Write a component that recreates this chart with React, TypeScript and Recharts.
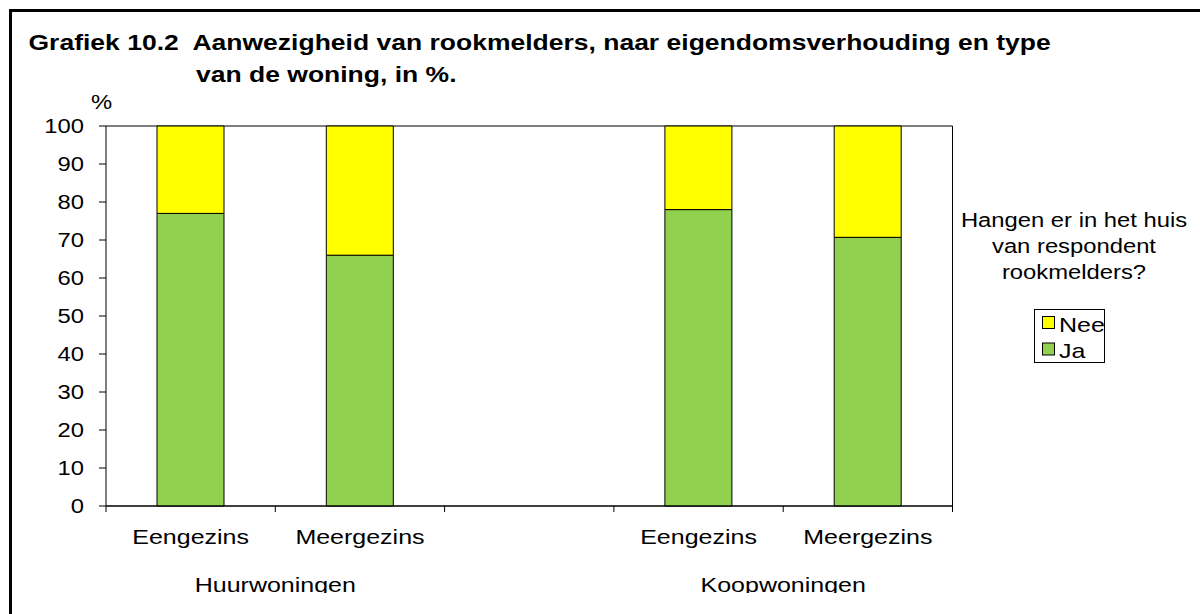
import React from 'react';
import { BarChart, Bar, XAxis, YAxis, CartesianGrid, Legend } from 'recharts';

// ---- data ----
const categoryKeys = ['huur-een', 'huur-meer', 'leeg', 'koop-een', 'koop-meer'];
const categoryLabels = ['Eengezins', 'Meergezins', '', 'Eengezins', 'Meergezins'];
const jaValues = [77, 66, null, 78, 70.7];
const neeValues = [23, 34, null, 22, 29.3];
const groupLabels = ['Huurwoningen', 'Koopwoningen'];
const groupStartIndex = [0, 3];
const groupSpan = [2, 2];
const yTicks = [0, 10, 20, 30, 40, 50, 60, 70, 80, 90, 100];
const titleLine1 = 'Grafiek 10.2  Aanwezigheid van rookmelders, naar eigendomsverhouding en type';
const titleLine2 = 'van de woning, in %.';
const legendTitle = ['Hangen er in het huis', 'van respondent', 'rookmelders?'];
const seriesNames = { ja: 'Ja', nee: 'Nee' };
const seriesColors = { ja: '#92D050', nee: '#FFFF00' };

const data = categoryKeys.map((k, i) => ({
  key: k,
  ja: jaValues[i],
  nee: neeValues[i],
}));

// ---- layout ----
const W = 1200;
const H = 614;
const PLOT_LEFT = 106;
const PLOT_RIGHT = 952.5;
const PLOT_TOP = 126;
const PLOT_BOTTOM = 506;
const Y_AXIS_W = 60;
const X_AXIS_H = 40;
const BAND = (PLOT_RIGHT - PLOT_LEFT) / categoryKeys.length;
const SX = 1.19;
const FONT = '"Liberation Sans", Arial, Helvetica, sans-serif';

function SText(props: any) {
  const { x, y, anchor = 'start', size = 20, weight = 'normal', sx = SX, children } = props;
  return (
    <text
      transform={`translate(${x} ${y}) scale(${sx} 1)`}
      textAnchor={anchor}
      fontSize={size}
      fontWeight={weight}
      fontFamily={FONT}
      fill="#000"
      style={{ whiteSpace: 'pre' }}
      xmlSpace="preserve"
    >
      {children}
    </text>
  );
}

function YTick(props: any) {
  const { y, payload } = props;
  return (
    <g>
      <SText x={PLOT_LEFT - 22} y={y + 7} anchor="end" size={20}>
        {payload.value}
      </SText>
    </g>
  );
}

function XTick(props: any) {
  const { x, index } = props;
  const left = x - BAND / 2;
  const right = x + BAND / 2;
  const gi = groupStartIndex.indexOf(index);
  return (
    <g>
      <line x1={left} x2={left} y1={PLOT_BOTTOM} y2={PLOT_BOTTOM + 6} stroke="#000" strokeWidth={1} />
      {index === categoryKeys.length - 1 && (
        <line x1={right} x2={right} y1={PLOT_BOTTOM} y2={PLOT_BOTTOM + 6} stroke="#000" strokeWidth={1} />
      )}
      <SText x={x} y={544} anchor="middle" size={21}>
        {categoryLabels[index]}
      </SText>
      {gi >= 0 && (
        <SText x={left + (BAND * groupSpan[gi]) / 2} y={592} anchor="middle" size={21}>
          {groupLabels[gi]}
        </SText>
      )}
    </g>
  );
}

function LegendContent(props: any) {
  const payload = (props.payload || []).slice().reverse();
  return (
    <svg width={W} height={H} style={{ position: 'absolute', left: 0, top: 0, pointerEvents: 'none' }}>
      {legendTitle.map((t, i) => (
        <SText key={t} x={1074} y={227 + i * 26} anchor="middle" size={20}>
          {t}
        </SText>
      ))}
      <rect x={1034.5} y={309.5} width={70} height={53} fill="#fff" stroke="#000" strokeWidth={1} />
      {payload.map((p: any, i: number) => (
        <g key={p.value}>
          <rect x={1042.5} y={316.5 + i * 26.5} width={12} height={12} fill={p.color} stroke="#000" strokeWidth={1} />
          <SText x={1059} y={331.5 + i * 26} size={21}>
            {p.value}
          </SText>
        </g>
      ))}
    </svg>
  );
}

export default function App() {
  return (
    <div
      style={{
        position: 'absolute',
        left: 0,
        top: 0,
        width: W,
        height: H,
        overflow: 'hidden',
        background: '#fff',
        fontFamily: FONT,
      }}
    >
      <div
        style={{
          position: 'absolute',
          left: 9,
          top: 9,
          width: 1400,
          height: 800,
          border: '3px solid #000',
          boxSizing: 'border-box',
        }}
      />
      <div style={{ position: 'absolute', left: 0, top: 0 }}>
        <BarChart
          width={W}
          height={H}
          data={data}
          margin={{
            top: PLOT_TOP,
            left: PLOT_LEFT - Y_AXIS_W,
            right: W - PLOT_RIGHT - 10,
            bottom: H - PLOT_BOTTOM - X_AXIS_H,
          }}
          barSize={67}
        >
          <CartesianGrid vertical={false} stroke="#000" strokeWidth={1} />
          <XAxis
            dataKey="key"
            type="category"
            interval={0}
            height={X_AXIS_H}
            axisLine={{ stroke: '#000', strokeWidth: 1 }}
            tickLine={false}
            tick={<XTick />}
          />
          <YAxis
            yAxisId="left"
            domain={[0, 100]}
            ticks={yTicks}
            interval={0}
            width={Y_AXIS_W}
            axisLine={{ stroke: '#000', strokeWidth: 1 }}
            tickLine={{ stroke: '#000', strokeWidth: 1 }}
            tickSize={7}
            tick={<YTick />}
          />
          <YAxis
            yAxisId="right"
            orientation="right"
            domain={[0, 100]}
            width={10}
            axisLine={{ stroke: '#000', strokeWidth: 1 }}
            tickLine={false}
            tick={false}
          />
          <Legend
            layout="vertical"
            align="center"
            verticalAlign="middle"
            wrapperStyle={{ position: 'absolute', left: 0, top: 0, width: W, height: H, margin: 0 }}
            content={<LegendContent />}
          />
          <Bar
            yAxisId="left"
            dataKey="ja"
            name={seriesNames.ja}
            stackId="a"
            fill={seriesColors.ja}
            stroke="#000"
            strokeWidth={1}
            isAnimationActive={false}
          />
          <Bar
            yAxisId="left"
            dataKey="nee"
            name={seriesNames.nee}
            stackId="a"
            fill={seriesColors.nee}
            stroke="#000"
            strokeWidth={1}
            isAnimationActive={false}
          />
        </BarChart>
      </div>
      <svg width={W} height={H} style={{ position: 'absolute', left: 0, top: 0, pointerEvents: 'none' }}>
        <SText x={28.5} y={49.5} size={22} weight="bold" sx={1.205}>
          {titleLine1}
        </SText>
        <SText x={196} y={82} size={22} weight="bold" sx={1.205}>
          {titleLine2}
        </SText>
        <SText x={101.5} y={109} anchor="middle" size={20}>
          %
        </SText>
      </svg>
      <div style={{ position: 'absolute', left: 12, top: 593, width: W, height: 30, background: '#fff' }} />
    </div>
  );
}
